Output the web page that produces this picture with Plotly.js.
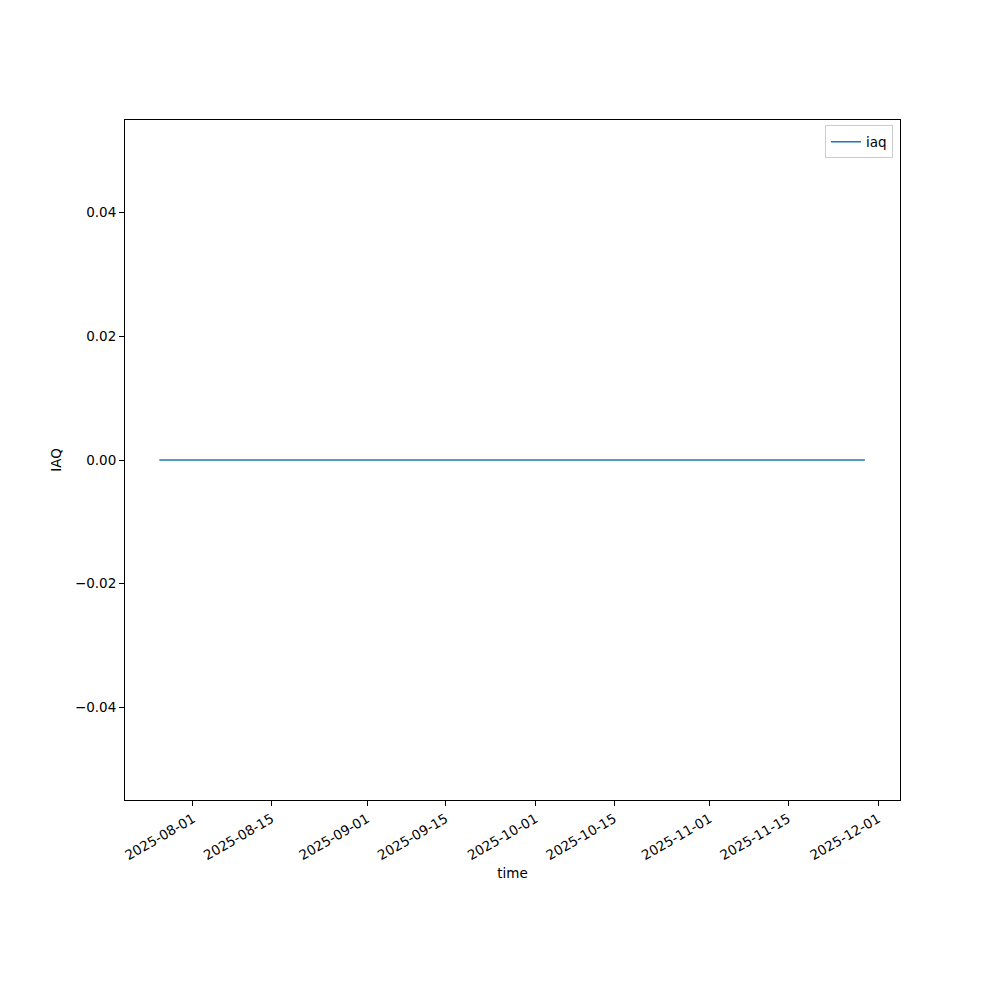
<!DOCTYPE html>
<html>
<head>
<meta charset="utf-8">
<script src="https://cdn.plot.ly/plotly-3.0.1.min.js"></script>
<style>html,body{margin:0;padding:0;background:#fff;}#chart{width:1000px;height:1000px;}</style>
</head>
<body>
<div id="chart"></div>
<script>
// Data: IAQ stays at 0 over the whole time span
const times = [
  "2025-07-26 00:00", "2025-08-15 00:00", "2025-09-01 00:00", "2025-09-15 00:00",
  "2025-10-01 00:00", "2025-10-15 00:00", "2025-11-01 00:00", "2025-11-15 00:00",
  "2025-11-28 16:00"
];
const iaq = [0, 0, 0, 0, 0, 0, 0, 0, 0];
const tickDates = ["2025-08-01", "2025-08-15", "2025-09-01", "2025-09-15", "2025-10-01",
                   "2025-10-15", "2025-11-01", "2025-11-15", "2025-12-01"];
const yTicks = [-0.04, -0.02, 0.00, 0.02, 0.04];
const yTickLabels = ["\u22120.04", "\u22120.02", "0.00", "0.02", "0.04"];

const font = {family: "DejaVu Sans, sans-serif", size: 13.5, color: "#000"};

Plotly.newPlot("chart", [{
  x: times, y: iaq, type: "scatter", mode: "lines", name: "iaq",
  line: {color: "#1f77b4", width: 1.6}
}], {
  width: 1000, height: 1000,
  margin: {l: 125, r: 100, t: 120, b: 200},
  paper_bgcolor: "#fff", plot_bgcolor: "#fff",
  font: font,
  showlegend: true,
  legend: {x: 0.991, y: 0.992, xanchor: "right", yanchor: "top",
           bordercolor: "#cccccc", borderwidth: 1, bgcolor: "rgba(255,255,255,0.8)",
           font: font, itemwidth: 30, tracegroupgap: 0},
  xaxis: {
    type: "date",
    range: ["2025-07-19 21:22", "2025-12-04 22:00"],
    tickmode: "array", tickvals: tickDates, ticktext: tickDates,
    tickangle: -30, ticks: "outside", ticklen: 5, tickwidth: 1, tickcolor: "#000",
    showgrid: false, zeroline: false,
    showline: true, linecolor: "#000", linewidth: 1, mirror: true,
    title: {text: "time", font: font, standoff: 6},
    tickfont: font
  },
  yaxis: {
    range: [-0.055, 0.055],
    tickmode: "array", tickvals: yTicks, ticktext: yTickLabels,
    ticks: "outside", ticklen: 5, tickwidth: 1, tickcolor: "#000",
    showgrid: false, zeroline: false,
    showline: true, linecolor: "#000", linewidth: 1, mirror: true,
    title: {text: "IAQ", font: font, standoff: 10},
    tickfont: font
  }
}, {displayModeBar: false});
</script>
</body>
</html>
